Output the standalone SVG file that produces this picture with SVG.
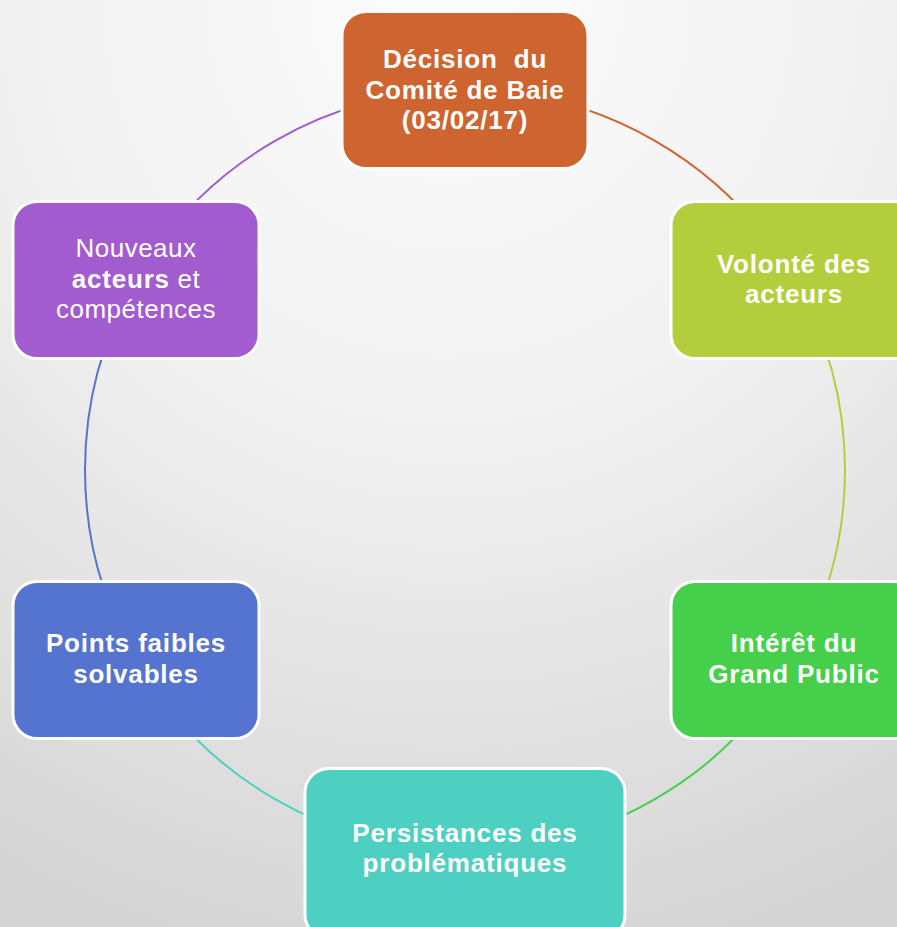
<svg xmlns="http://www.w3.org/2000/svg" width="897" height="927" viewBox="0 0 897 927">
  <defs>
    <radialGradient id="bg" cx="0.5" cy="0" r="1.05" fx="0.5" fy="0">
      <stop offset="0" stop-color="#fcfcfc"/>
      <stop offset="0.45" stop-color="#f1f1f1"/>
      <stop offset="1" stop-color="#d5d5d5"/>
    </radialGradient>
  </defs>
  <style>
    .arc { fill: none; stroke-width: 2; }
    .box { stroke: #ffffff; stroke-width: 3; }
    .t { font-family: "Liberation Sans", Arial, sans-serif; font-size: 26px; fill: #ffffff; text-anchor: middle; font-weight: bold; letter-spacing: 0.8px; }
    .r { font-weight: normal; letter-spacing: 0.5px; }
  </style>
  <rect x="0" y="0" width="897" height="927" fill="url(#bg)"/>
  <g id="connectors">
    <path class="arc" stroke="#CE6530" d="M465,90 A380,380 0 0 1 794.09,280"/>
    <path class="arc" stroke="#B3CE3D" d="M794.09,280 A380,380 0 0 1 794.09,660"/>
    <path class="arc" stroke="#45CF4B" d="M794.09,660 A380,380 0 0 1 465,850"/>
    <path class="arc" stroke="#4DD0C2" d="M465,850 A380,380 0 0 1 135.91,660"/>
    <path class="arc" stroke="#5574CF" d="M135.91,660 A380,380 0 0 1 135.91,280"/>
    <path class="arc" stroke="#A35BD0" d="M135.91,280 A380,380 0 0 1 465,90"/>
  </g>
  <g id="node-decision">
    <rect class="box" x="342" y="11.5" width="246" height="157" rx="24" fill="#CE6530"/>
    <text class="t" x="465" y="68" xml:space="preserve">Décision  du</text>
    <text class="t" x="465" y="98.5">Comité de Baie</text>
    <text class="t" x="465" y="129">(03/02/17)</text>
  </g>
  <g id="node-volonte">
    <rect class="box" x="671" y="201.5" width="246" height="157" rx="24" fill="#B3CE3D"/>
    <text class="t" x="794" y="273">Volonté des</text>
    <text class="t" x="794" y="303">acteurs</text>
  </g>
  <g id="node-interet">
    <rect class="box" x="671" y="581.5" width="246" height="157" rx="24" fill="#45CF4B"/>
    <text class="t" x="794" y="652">Intérêt du</text>
    <text class="t" x="794" y="683">Grand Public</text>
  </g>
  <g id="node-persistances">
    <rect class="box" x="305" y="768.5" width="320" height="170" rx="24" fill="#4DD0C2"/>
    <text class="t" x="465" y="842">Persistances des</text>
    <text class="t" x="465" y="872">problématiques</text>
  </g>
  <g id="node-points">
    <rect class="box" x="13" y="581.5" width="246" height="157" rx="24" fill="#5574CF"/>
    <text class="t" x="136" y="652">Points faibles</text>
    <text class="t" x="136" y="683">solvables</text>
  </g>
  <g id="node-nouveaux">
    <rect class="box" x="13" y="201.5" width="246" height="157" rx="24" fill="#A35BD0"/>
    <text class="t r" x="136" y="257">Nouveaux</text>
    <text class="t r" x="136" y="288"><tspan font-weight="bold" letter-spacing="0.8px">acteurs</tspan> et</text>
    <text class="t r" x="136" y="318">compétences</text>
  </g>
</svg>
